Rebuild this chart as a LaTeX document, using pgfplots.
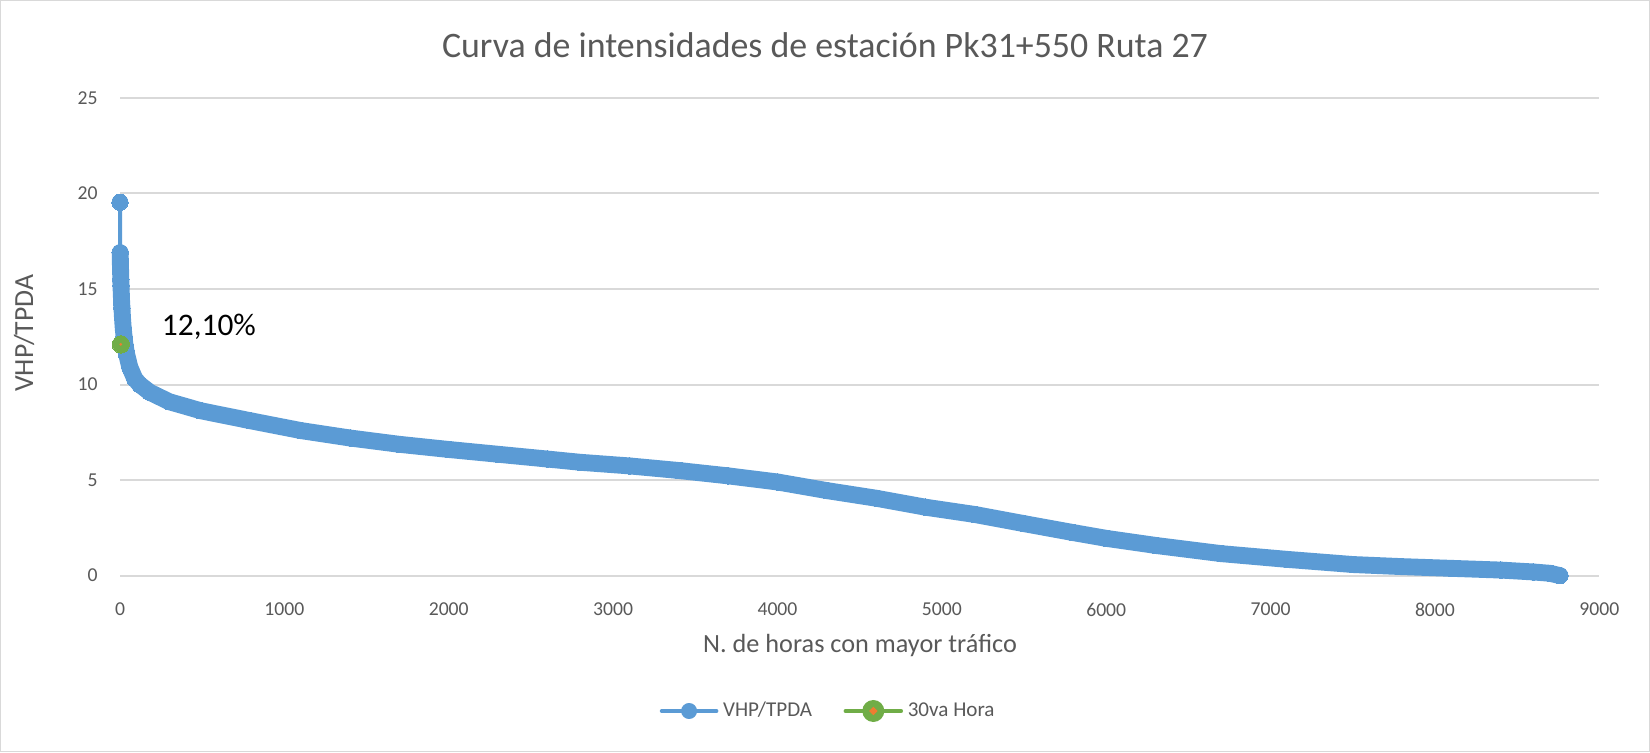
\documentclass[border=0pt]{standalone}
\usepackage{pgfplots}
\pgfplotsset{compat=1.18}
\usepackage{pgfplotstable}
\usepackage{fontspec}
\setmainfont{Carlito}
\definecolor{xlblue}{HTML}{5B9BD5}
\definecolor{xlgreen}{HTML}{70AD47}
\definecolor{xlorange}{HTML}{ED7D31}
\definecolor{txtgray}{HTML}{595959}
\definecolor{gridgray}{HTML}{D9D9D9}

\pgfplotstableread{
h v
0 19.54
1 16.9
2 16.5
3 16.1
4 15.9
5 15.5
6 15.2
8 14.7
10 14.3
12 14.0
15 13.5
20 12.9
25 12.5
30 12.1
40 11.6
60 10.9
90 10.3
120 10.0
180 9.6
300 9.1
490 8.63
790 8.11
1100 7.59
1400 7.2
1700 6.87
2000 6.6
2300 6.35
2600 6.1
2800 5.93
3100 5.74
3400 5.5
3700 5.22
4000 4.9
4300 4.45
4600 4.05
4900 3.58
5200 3.2
5500 2.72
5800 2.25
6000 1.95
6300 1.58
6700 1.15
7100 0.85
7500 0.58
7800 0.47
8100 0.38
8400 0.29
8600 0.19
8700 0.12
8760 0.0
}\curve

\begin{document}
\begin{tikzpicture}
\draw[gridgray, line width=0.6pt] (0.3pt,0.3pt) rectangle (247.5mm-0.3pt,112.8mm-0.3pt);
\begin{axis}[
  at={(18mm,26.46mm)}, anchor=south west,
  scale only axis, width=221.9mm, height=71.66mm,
  xmin=0, xmax=9000, ymin=0, ymax=25,
  xtick={0,1000,...,9000}, ytick={0,5,...,25},
  axis line style={draw=none}, tick style={draw=none},
  ymajorgrids, major grid style={gridgray, line width=0.85pt},
  /pgf/number format/assume math mode=true,
  /pgf/number format/1000 sep={},
  ticklabel style={font=\fontsize{8.4}{10}\selectfont, text=txtgray},
  xticklabel style={anchor=center, yshift=-5.1mm},
  yticklabel style={anchor=east, inner sep=0pt, xshift=-3.3mm},
  clip=false,
  legend columns=2,
  legend style={at={(axis description cs:0.4796,-0.2834)}, anchor=center,
    draw=none, fill=none, font=\fontsize{9}{10}\selectfont, text=txtgray,
    /tikz/every even column/.append style={column sep=4mm}},
]
\addplot[xlblue, line width=7.2pt, line join=round, line cap=round, forget plot,
  restrict x to domain=0.5:9000] table[x=h, y=v] {\curve};
\addplot[xlblue, line width=1.7pt, line join=round, mark=*, mark size=3.5pt,
  mark options={fill=xlblue, draw=xlblue, line width=0pt},
  legend image code/.code={
    \draw[xlblue, line width=1.7pt, line cap=round] (0mm,0mm) -- (8.2mm,0mm);
    \fill[xlblue] (4.1mm,0mm) circle (0.9mm);}
  ] table[x=h, y=v] {\curve};
\addlegendentry{VHP/TPDA}
\addplot[xlgreen, line width=2.1pt, mark=*, mark size=3.7pt,
  mark options={fill=xlgreen, draw=xlgreen, line width=0pt},
  legend image code/.code={
    \draw[xlgreen, line width=2.1pt, line cap=round] (0mm,0mm) -- (8.2mm,0mm);
    \fill[xlgreen] (4.1mm,0mm) circle (1.275mm);
    \fill[xlorange] (4.1mm,0mm) circle (0.12mm);}
  ] coordinates {(5,12.1)};
\addlegendentry{30va Hora}
\addplot[forget plot, only marks, mark=*, mark size=0.35pt, xlorange,
  mark options={fill=xlorange, draw=xlorange}] coordinates {(5,12.1)};
\node[anchor=west, inner sep=0pt, font=\fontsize{13.4}{15}\selectfont, text=black,
  xshift=6.1mm, yshift=2.7mm] at (axis cs:5,12.1) {12,10\%};
\end{axis}
\node[font=\fontsize{15.3}{18}\selectfont, text=txtgray] at (123.75mm,106.0mm)
  {Curva de intensidades de estación Pk31+550 Ruta 27};
\node[rotate=90, font=\fontsize{11.8}{14}\selectfont, text=txtgray] at (3.6mm,62.8mm) {VHP/TPDA};
\node[font=\fontsize{11.2}{13}\selectfont, text=txtgray] at (129mm,16.0mm) {N. de horas con mayor tráfico};
\end{tikzpicture}
\end{document}
